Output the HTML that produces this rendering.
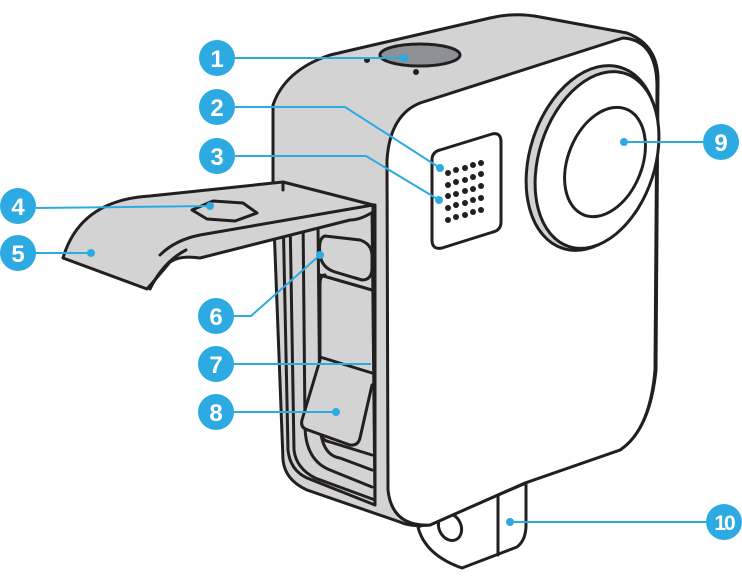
<!DOCTYPE html>
<html><head><meta charset="utf-8"><style>
html,body{margin:0;padding:0;background:#fff}
svg{display:block}
text{font-family:"Liberation Sans",sans-serif;font-weight:bold;fill:#fff;text-anchor:middle}
</style></head><body>
<svg width="742" height="588" viewBox="0 0 742 588" xmlns="http://www.w3.org/2000/svg">
<g stroke="#231f20" stroke-width="3" stroke-linejoin="round" stroke-linecap="round">
<!-- mount -->
<path d="M418 527 Q425 555 462 568 L517 547 Q526 540 526 525 L526 483 L498 495 Z" fill="#fff"/>
<path d="M498 495 L498 555" fill="none"/>
<ellipse cx="450" cy="527" rx="11" ry="14" transform="rotate(-25 450 527)" fill="#fff"/>
<!-- gray body silhouette -->
<path d="M273 105 Q285 70 330 55 L490 18 Q515 12 540 17 L627 33 Q658 45 658 80 L656 370 Q650 430 620 450 L525 483 L430 525 Q410 527 400 522 L307 490 Q285 480 283 460 L273 200 Z" fill="#d3d3d3"/>
<!-- white front face -->
<path d="M387 160 Q390 115 420 103 L623 38 Q656 40 657 85 L655 370 Q650 430 620 450 L525 483 L430 525 Q392 527 388 490 Z" fill="#fff"/>
<!-- door opening -->
<path d="M283 210 L375 205 L375 505 L307 478 Q290 470 288 450 Z" fill="#d3d3d3"/>
<path d="M290 215 L294 450 Q296 468 315 478 L375 500" fill="none"/>
<path d="M303 215 L305 425 Q305 460 330 470 L372 487" fill="none"/>
<path d="M318 225 L320 420 Q320 455 340 458 L372 470" fill="none"/>
<path d="M372 205 L375 505" fill="none"/>
<path d="M325 236 Q318 238 320 255 Q322 268 335 272 L362 280 Q372 280 372 268 L372 256 Q372 244 360 240 Z" fill="#d3d3d3"/>
<path d="M325 275 Q320 275 320 285 L320 430 Q320 440 330 442 L372 455" fill="none"/>
<path d="M320 275 L372 290" fill="none"/>
<path d="M320 357 L372 373" fill="none"/>
<path d="M320 360 L302 420 Q300 428 308 430 L350 445 Q358 446 360 438 L372 385" fill="#d3d3d3"/>
<!-- shutter -->
<ellipse cx="420" cy="55" rx="40" ry="11" fill="#8d9094"/>
<circle cx="367" cy="60" r="1.5" fill="#231f20"/>
<circle cx="416" cy="72" r="1.5" fill="#231f20"/>
<!-- speaker grille -->
<path d="M440 150 L492 134 Q501 132 501 142 L501 222 Q501 230 493 232 L442 248 Q432 250 432 240 L432 160 Q432 152 440 150 Z" fill="#fff"/>
<!-- lens -->
<ellipse cx="592" cy="158" rx="62" ry="95" transform="rotate(18 592 158)" fill="#d3d3d3"/>
<ellipse cx="597" cy="160" rx="58" ry="91" transform="rotate(18 597 160)" fill="#fff"/>
<ellipse cx="605" cy="162" rx="37" ry="57" transform="rotate(22 605 162)" fill="#fff"/>
<!-- door flap -->
<path d="M63 258 Q80 200 150 196 L283 182 L373 205 L373 212 Q360 220 350 220 L200 258 Q180 255 170 262 Q155 280 147 289 Z" fill="#d3d3d3"/>
<path d="M186 250 Q163 262 150 289" fill="none"/>
<path d="M373 205 L200 235 Q175 240 160 255" fill="none"/>
<path d="M283 182 L283 190" fill="none"/>
<path d="M192 210 L213 201 L243 203 L257 213 L235 221 L207 219 Z" fill="#d3d3d3"/>
</g>
<!-- grille dots -->
<g fill="#231f20">
<circle cx="448" cy="173" r="3"/><circle cx="456" cy="170" r="3"/><circle cx="465" cy="168" r="3"/><circle cx="473" cy="165" r="3"/><circle cx="481" cy="163" r="3"/>
<circle cx="448" cy="185" r="3"/><circle cx="456" cy="182" r="3"/><circle cx="465" cy="180" r="3"/><circle cx="473" cy="177" r="3"/><circle cx="481" cy="174" r="3"/>
<circle cx="448" cy="196" r="3"/><circle cx="456" cy="194" r="3"/><circle cx="465" cy="191" r="3"/><circle cx="473" cy="189" r="3"/><circle cx="481" cy="186" r="3"/>
<circle cx="448" cy="208" r="3"/><circle cx="456" cy="205" r="3"/><circle cx="465" cy="203" r="3"/><circle cx="473" cy="200" r="3"/><circle cx="481" cy="198" r="3"/>
<circle cx="448" cy="220" r="3"/><circle cx="456" cy="217" r="3"/><circle cx="465" cy="215" r="3"/><circle cx="473" cy="212" r="3"/><circle cx="481" cy="210" r="3"/>
</g>
<!-- callouts -->
<g stroke="#2eaae2" stroke-width="2" fill="none">
<path d="M235 58 L404 58"/>
<path d="M235 107 L345 107 L440 168"/>
<path d="M235 156 L366 156 L439 200"/>
<path d="M36 208 L210 206"/>
<path d="M36 253 L91 253"/>
<path d="M234 316 L251 316 L320 255"/>
<path d="M234 364 L371 364"/>
<path d="M234 412 L336 412"/>
<path d="M624 142 L704 142"/>
<path d="M510 522 L707 522"/>
</g>
<g fill="#2eaae2">
<circle cx="404" cy="58" r="4"/><circle cx="440" cy="168" r="4"/><circle cx="439" cy="200" r="4"/>
<circle cx="210" cy="206" r="4"/><circle cx="91" cy="253" r="4"/><circle cx="320" cy="255" r="4"/>
<circle cx="336" cy="412" r="4"/><circle cx="624" cy="142" r="4"/><circle cx="510" cy="522" r="4"/>
<circle cx="217" cy="58" r="18"/><circle cx="217" cy="107" r="18"/><circle cx="217" cy="156" r="18"/>
<circle cx="18" cy="206" r="18"/><circle cx="18" cy="253" r="18"/>
<circle cx="216" cy="316" r="18"/><circle cx="216" cy="364" r="18"/><circle cx="216" cy="412" r="18"/>
<circle cx="721" cy="142" r="18"/><circle cx="724" cy="522" r="18"/>
</g>
<g font-size="24">
<text x="217" y="67">1</text><text x="217" y="116">2</text><text x="217" y="165">3</text>
<text x="18" y="215">4</text><text x="18" y="262">5</text>
<text x="216" y="325">6</text><text x="216" y="373">7</text><text x="216" y="421">8</text>
<text x="721" y="151">9</text><text x="724" y="530" font-size="21" letter-spacing="-2">10</text>
</g>
</svg>
</body></html>
